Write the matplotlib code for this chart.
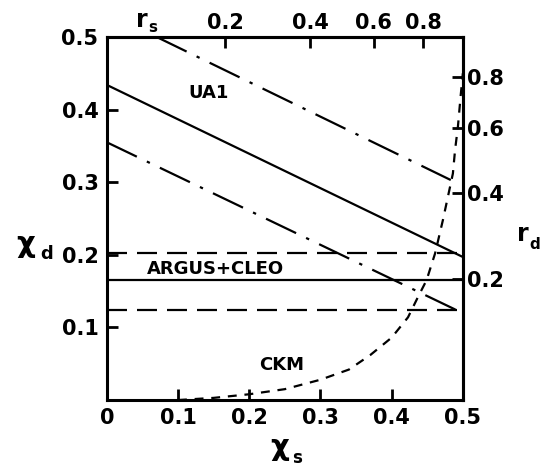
import matplotlib
matplotlib.use("Agg")
import matplotlib.pyplot as plt

# chi_s axis ticks
xs_ticks = [0, 0.1, 0.2, 0.3, 0.4, 0.5]
xs_labels = ['0', '0.1', '0.2', '0.3', '0.4', '0.5']
xd_ticks = [0.1, 0.2, 0.3, 0.4, 0.5]
xd_labels = ['0.1', '0.2', '0.3', '0.4', '0.5']
r_ticks = [0.2, 0.4, 0.6, 0.8]
r_labels = ['0.2', '0.4', '0.6', '0.8']

# UA1 band (central solid, upper and lower dash-dot)
ua1_x = [0.0, 0.5]
ua1_y = [0.434, 0.197]
ua1_up_x = [0.07, 0.483]
ua1_up_y = [0.5, 0.303]
ua1_lo_x = [0.0, 0.495]
ua1_lo_y = [0.355, 0.122]

# ARGUS + CLEO band
argus_mid = 0.165
argus_hi = 0.202
argus_lo = 0.124

# CKM curve
ckm_x = [0.10, 0.15, 0.20, 0.25, 0.30, 0.34, 0.37, 0.40, 0.423, 0.437, 0.449,
         0.461, 0.472, 0.479, 0.486, 0.489, 0.493, 0.497, 0.50]
ckm_y = [0.0, 0.003, 0.008, 0.015, 0.028, 0.042, 0.062, 0.086, 0.114, 0.142, 0.165,
         0.202, 0.248, 0.28, 0.312, 0.344, 0.376, 0.42, 0.45]


def chi_to_r(c):
    return c / (1 - c)


def r_to_chi(r):
    return r / (1 + r)


plt.rcParams['font.family'] = 'DejaVu Sans'
plt.rcParams['font.weight'] = 'bold'

fig = plt.figure(figsize=(5.42, 4.74), dpi=100)
ax = fig.add_axes([0.197, 0.156, 0.657, 0.766])

lw = 1.6
dashdot = (0, (15, 5, 1.5, 5))
ax.plot(ua1_x, ua1_y, 'k-', lw=lw)
ax.plot(ua1_up_x, ua1_up_y, color='k', lw=lw, linestyle=dashdot)
ax.plot(ua1_lo_x, ua1_lo_y, color='k', lw=lw, linestyle=dashdot)

ax.axhline(argus_mid, color='k', lw=lw)
ax.axhline(argus_hi, color='k', lw=lw, linestyle=(0, (9, 4.5)))
ax.axhline(argus_lo, color='k', lw=lw, linestyle=(0, (9, 4.5)))

ax.plot(ckm_x, ckm_y, color='k', lw=lw, linestyle=(0, (4, 3.5)))

ax.text(0.143, 0.423, 'UA1', fontsize=13, ha='center', va='center')
ax.text(0.153, 0.181, 'ARGUS+CLEO', fontsize=13, ha='center', va='center')
ax.text(0.246, 0.048, 'CKM', fontsize=13, ha='center', va='center')

ax.set_xlim(0, 0.5)
ax.set_ylim(0, 0.5)
ax.set_xticks(xs_ticks, xs_labels)
ax.set_yticks(xd_ticks, xd_labels)
ax.tick_params(direction='in', length=8, width=2, labelsize=15, pad=6)
for s in ax.spines.values():
    s.set_linewidth(2.2)

top = ax.secondary_xaxis('top', functions=(chi_to_r, r_to_chi))
top.set_xticks(r_ticks, r_labels)
top.tick_params(direction='in', length=8, width=2, labelsize=15, pad=3)
top.spines['top'].set_linewidth(2.2)

right = ax.secondary_yaxis('right', functions=(chi_to_r, r_to_chi))
right.set_yticks(r_ticks, r_labels)
right.tick_params(direction='in', length=8, width=2, labelsize=15, pad=3)
right.spines['right'].set_linewidth(2.2)

# axis names, placed by hand like the original figure
fig.text(142 / 542, 1 - 20 / 474, 'r', fontsize=17, ha='center', va='center')
fig.text(153 / 542, 1 - 28 / 474, 's', fontsize=11, ha='center', va='center')
fig.text(523 / 542, 1 - 234 / 474, 'r', fontsize=17, ha='center', va='center')
fig.text(535 / 542, 1 - 244 / 474, 'd', fontsize=11, ha='center', va='center')
fig.text(26 / 542, 1 - 244 / 474, 'χ', fontsize=21, ha='center', va='center')
fig.text(47 / 542, 1 - 254 / 474, 'd', fontsize=13, ha='center', va='center')
fig.text(280 / 542, 1 - 447 / 474, 'χ', fontsize=21, ha='center', va='center')
fig.text(297 / 542, 1 - 458 / 474, 's', fontsize=12, ha='center', va='center')

fig.savefig('out.png', dpi=100)
